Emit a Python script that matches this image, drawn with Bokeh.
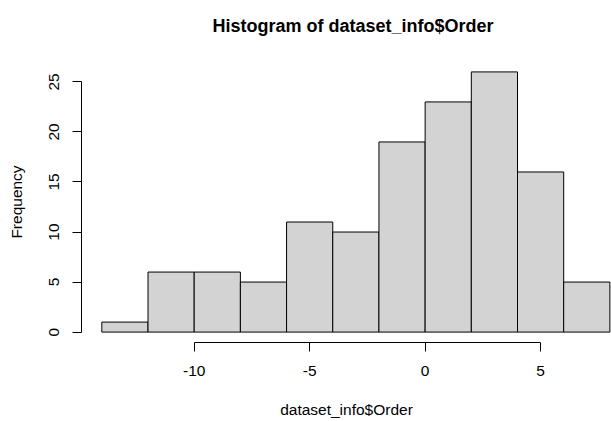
from bokeh.plotting import figure
from bokeh.models import FixedTicker, Range1d, Title
from bokeh.embed import file_html
from bokeh.resources import INLINE

# Histogram data (bins of width 2)
bin_left = [-14, -12, -10, -8, -6, -4, -2, 0, 2, 4, 6]
bin_right = [-12, -10, -8, -6, -4, -2, 0, 2, 4, 6, 8]
counts = [1, 6, 6, 5, 11, 10, 19, 23, 26, 16, 5]
x_ticks = [-10, -5, 0, 5]
x_tick_labels = ["-10", "-5", "0", "5"]
y_ticks = [0, 5, 10, 15, 20, 25]
title_text = "Histogram of dataset_info$Order"

FONT = "Liberation Sans"
LBL = "15.5px"

p = figure(width=611, height=421, output_backend="svg", toolbar_location=None,
           x_range=Range1d(-14.88, 8.07), y_range=Range1d(-1.04, 27.04),
           min_border_left=81, min_border_right=0, min_border_top=61,
           min_border_bottom=79)

p.quad(left=bin_left, right=bin_right, bottom=0, top=counts,
       fill_color="#D3D3D3", line_color="#000000", line_width=1)

# spacer between title and plot frame
spacer = Title(text=" ", text_font=FONT, text_font_size="10px", standoff=11,
               text_color="#ffffff")
p.add_layout(spacer, "above")
main_title = Title(text=title_text, align="left", offset=131, vertical_align="top",
                   standoff=0, text_font=FONT, text_font_size="18px",
                   text_font_style="bold", text_color="#000000")
p.add_layout(main_title, "above")

p.grid.visible = False
p.outline_line_color = None
p.background_fill_color = "white"
p.border_fill_color = "white"

xa = p.xaxis[0]
xa.ticker = FixedTicker(ticks=x_ticks)
xa.major_label_overrides = dict(zip(x_ticks, x_tick_labels))
xa.bounds = (-10, 5)
xa.minor_tick_line_color = None
xa.major_tick_in = 0
xa.major_tick_out = 9
xa.major_label_standoff = 14
xa.major_label_text_font = FONT
xa.major_label_text_font_size = LBL
xa.major_label_text_color = "#000000"
xa.axis_label = "dataset_info$Order"
xa.axis_label_text_font = FONT
xa.axis_label_text_font_size = LBL
xa.axis_label_text_font_style = "normal"
xa.axis_label_standoff = 22
xa.axis_label_text_color = "#000000"
xa.axis_line_color = "#000000"
xa.major_tick_line_color = "#000000"

ya = p.yaxis[0]
ya.ticker = FixedTicker(ticks=y_ticks)
ya.bounds = (0, 25)
ya.minor_tick_line_color = None
ya.major_tick_in = 0
ya.major_tick_out = 9
ya.major_label_orientation = "vertical"
ya.major_label_standoff = 13
ya.major_label_text_font = FONT
ya.major_label_text_font_size = LBL
ya.major_label_text_color = "#000000"
ya.axis_label = "Frequency"
ya.axis_label_text_font = FONT
ya.axis_label_text_font_size = LBL
ya.axis_label_text_font_style = "normal"
ya.axis_label_standoff = 22
ya.axis_label_text_color = "#000000"
ya.axis_line_color = "#000000"
ya.major_tick_line_color = "#000000"

open("out.html", "w").write(file_html(p, INLINE))
